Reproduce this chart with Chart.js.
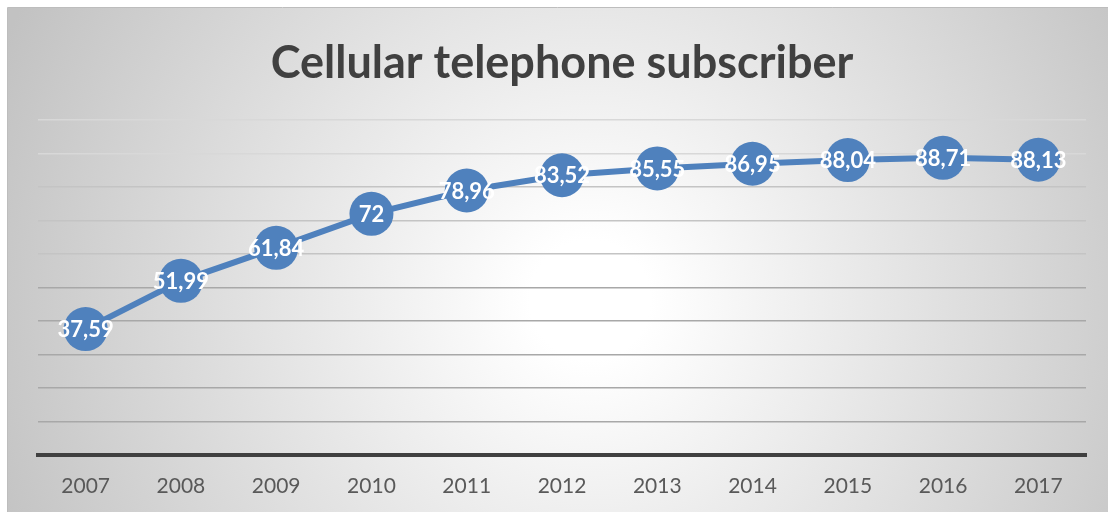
<!DOCTYPE html>
<html>
<head>
<meta charset="utf-8">
<script src="https://cdn.jsdelivr.net/npm/chart.js@4.4.0/dist/chart.umd.min.js"></script>
<style>
html,body{margin:0;padding:0;background:#fff;}
#wrap{width:1108px;height:512px;position:relative;}
</style>
</head>
<body>
<div id="wrap"><canvas id="c" width="1108" height="512"></canvas></div>
<script>
const categories = ['2007','2008','2009','2010','2011','2012','2013','2014','2015','2016','2017'];
const subscribers = [37.59, 51.99, 61.84, 72, 78.96, 83.52, 85.55, 86.95, 88.04, 88.71, 88.13];
const yTicks = [0, 10, 20, 30, 40, 50, 60, 70, 80, 90, 100];
const titleText = 'Cellular telephone subscriber';

const bgPlugin = {
  id: 'bg',
  beforeDraw(chart) {
    const ctx = chart.ctx;
    ctx.save();
    ctx.fillStyle = '#ffffff';
    ctx.fillRect(0, 0, chart.width, chart.height);
    const g = ctx.createRadialGradient(590, 300, 60, 590, 300, 640);
    g.addColorStop(0, '#ffffff');
    g.addColorStop(1, '#c2c2c2');
    ctx.fillStyle = g;
    ctx.fillRect(8, 8, chart.width - 8, chart.height - 8);
    ctx.strokeStyle = '#bdbdbd';
    ctx.lineWidth = 1;
    ctx.beginPath();
    ctx.moveTo(7.5, chart.height);
    ctx.lineTo(7.5, 7.5);
    ctx.lineTo(chart.width, 7.5);
    ctx.stroke();
    ctx.restore();
  }
};

const labelPlugin = {
  id: 'valueLabels',
  afterDatasetsDraw(chart) {
    const ctx = chart.ctx;
    const meta = chart.getDatasetMeta(0);
    ctx.save();
    ctx.font = 'bold 22px Lato';
    ctx.fillStyle = '#ffffff';
    ctx.textAlign = 'center';
    ctx.textBaseline = 'middle';
    meta.data.forEach((pt, i) => {
      const txt = String(subscribers[i]).replace('.', ',');
      ctx.fillText(txt, pt.x, pt.y + 1);
    });
    ctx.restore();
  }
};

new Chart(document.getElementById('c'), {
  type: 'line',
  data: {
    labels: categories,
    datasets: [{
      data: subscribers,
      borderColor: '#4F81BD',
      backgroundColor: '#4F81BD',
      borderWidth: 6,
      pointRadius: 22,
      pointHoverRadius: 22,
      pointBorderWidth: 0,
      pointBackgroundColor: '#4F81BD',
      tension: 0,
      fill: false,
      clip: false
    }]
  },
  options: {
    responsive: false,
    animation: false,
    events: [],
    layout: { autoPadding: false, padding: { left: 38, right: 22, top: 8, bottom: 14 } },
    plugins: {
      legend: { display: false },
      tooltip: { enabled: false },
      title: {
        display: true,
        text: titleText,
        color: '#404040',
        font: { family: 'Lato', size: 45, weight: 'bold', lineHeight: 1.2 },
        padding: { top: 28, bottom: 30 }
      }
    },
    scales: {
      x: {
        offset: true,
        grid: { display: false, drawTicks: false },
        border: { display: true, color: '#404040', width: 4 },
        ticks: { color: '#595959', font: { family: 'Lato', size: 21 }, padding: 19, maxRotation: 0 },
        afterFit(scale) { scale.height = 43; }
      },
      y: {
        min: 0,
        max: 100,
        afterBuildTicks(axis) { axis.ticks = yTicks.map(v => ({ value: v })); },
        ticks: { display: false },
        grid: {
          drawTicks: false,
          lineWidth: 1.5,
          color(ctx) {
            const v = ctx.tick ? ctx.tick.value : 0;
            return v >= 90 ? '#d8d8d8' : (v >= 60 ? '#c4c4c4' : '#a8a8a8');
          }
        },
        border: { display: false }
      }
    }
  },
  plugins: [bgPlugin, labelPlugin]
});
</script>
</body>
</html>
